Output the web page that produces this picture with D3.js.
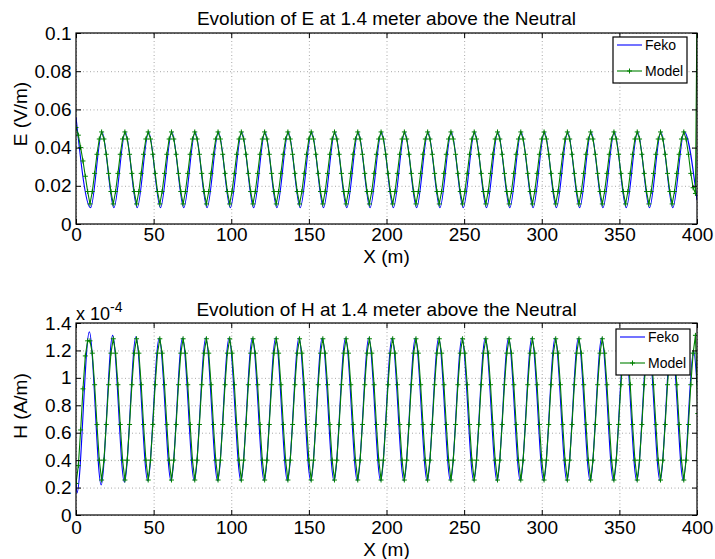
<!DOCTYPE html>
<html>
<head>
<meta charset="utf-8">
<script src="https://cdn.jsdelivr.net/npm/d3@7"></script>
<style>
body { margin: 0; background: #fff; }
text { font-family: "Liberation Sans", Arial, Helvetica, sans-serif; fill: #000; }
</style>
</head>
<body>
<svg id="chart" width="715" height="559"></svg>
<script>
// tick values
const xTicks = [0, 50, 100, 150, 200, 250, 300, 350, 400];
const eTicks = [0, 0.02, 0.04, 0.06, 0.08, 0.1];
const hTicks = [0, 0.2, 0.4, 0.6, 0.8, 1, 1.2, 1.4]; // x 10^-4
const seriesNames = ['Feko', 'Model'];

// Feko: [x (m), E (V/m)] at the turning points of the curve
const eFeko = [
    [0, 0.056], [9.4, 0.0085], [16.8, 0.0482], [24.4, 0.0085], [31.8, 0.0482], [39.4, 0.0085], [46.8, 0.0482],
    [54.4, 0.0085], [61.8, 0.0482], [69.4, 0.0085], [76.8, 0.0482], [84.4, 0.0085], [91.8, 0.0482],
    [99.4, 0.0085], [106.8, 0.0482], [114.4, 0.0085], [121.8, 0.0482], [129.4, 0.0085], [136.8, 0.0482],
    [144.4, 0.0085], [151.8, 0.0482], [159.4, 0.0085], [166.8, 0.0482], [174.4, 0.0085], [181.8, 0.0482],
    [189.4, 0.0085], [196.8, 0.0482], [204.4, 0.0085], [211.8, 0.0482], [219.4, 0.0085], [226.8, 0.0482],
    [234.4, 0.0085], [241.8, 0.0482], [249.4, 0.0085], [256.8, 0.0482], [264.4, 0.0085], [271.8, 0.0482],
    [279.4, 0.0085], [286.8, 0.0482], [294.4, 0.0085], [301.8, 0.0482], [309.4, 0.0085], [316.8, 0.0482],
    [324.4, 0.0085], [331.8, 0.0482], [339.4, 0.0085], [346.8, 0.0482], [354.4, 0.0085], [361.8, 0.0482],
    [369.4, 0.0085], [376.8, 0.0482], [384.4, 0.0085], [391.8, 0.0482], [400, 0.0125]
];

// Model: one value every modelStep metres from x = 0
const modelStep = 1.5;
const eModel = [
    0.0505, 0.0465, 0.0400, 0.0330, 0.0250, 0.0170, 0.0105, 0.0170, 0.0265, 0.0365,
    0.0445, 0.0482, 0.0445, 0.0365, 0.0265, 0.0170, 0.0105, 0.0170, 0.0265, 0.0365,
    0.0445, 0.0482, 0.0445, 0.0365, 0.0265, 0.0170, 0.0105, 0.0170, 0.0265, 0.0365,
    0.0445, 0.0482, 0.0445, 0.0365, 0.0265, 0.0170, 0.0105, 0.0170, 0.0265, 0.0365,
    0.0445, 0.0482, 0.0445, 0.0365, 0.0265, 0.0170, 0.0105, 0.0170, 0.0265, 0.0365,
    0.0445, 0.0482, 0.0445, 0.0365, 0.0265, 0.0170, 0.0105, 0.0170, 0.0265, 0.0365,
    0.0445, 0.0482, 0.0445, 0.0365, 0.0265, 0.0170, 0.0105, 0.0170, 0.0265, 0.0365,
    0.0445, 0.0482, 0.0445, 0.0365, 0.0265, 0.0170, 0.0105, 0.0170, 0.0265, 0.0365,
    0.0445, 0.0482, 0.0445, 0.0365, 0.0265, 0.0170, 0.0105, 0.0170, 0.0265, 0.0365,
    0.0445, 0.0482, 0.0445, 0.0365, 0.0265, 0.0170, 0.0105, 0.0170, 0.0265, 0.0365,
    0.0445, 0.0482, 0.0445, 0.0365, 0.0265, 0.0170, 0.0105, 0.0170, 0.0265, 0.0365,
    0.0445, 0.0482, 0.0445, 0.0365, 0.0265, 0.0170, 0.0105, 0.0170, 0.0265, 0.0365,
    0.0445, 0.0482, 0.0445, 0.0365, 0.0265, 0.0170, 0.0105, 0.0170, 0.0265, 0.0365,
    0.0445, 0.0482, 0.0445, 0.0365, 0.0265, 0.0170, 0.0105, 0.0170, 0.0265, 0.0365,
    0.0445, 0.0482, 0.0445, 0.0365, 0.0265, 0.0170, 0.0105, 0.0170, 0.0265, 0.0365,
    0.0445, 0.0482, 0.0445, 0.0365, 0.0265, 0.0170, 0.0105, 0.0170, 0.0265, 0.0365,
    0.0445, 0.0482, 0.0445, 0.0365, 0.0265, 0.0170, 0.0105, 0.0170, 0.0265, 0.0365,
    0.0445, 0.0482, 0.0445, 0.0365, 0.0265, 0.0170, 0.0105, 0.0170, 0.0265, 0.0365,
    0.0445, 0.0482, 0.0445, 0.0365, 0.0265, 0.0170, 0.0105, 0.0170, 0.0265, 0.0365,
    0.0445, 0.0482, 0.0445, 0.0365, 0.0265, 0.0170, 0.0105, 0.0170, 0.0265, 0.0365,
    0.0445, 0.0482, 0.0445, 0.0365, 0.0265, 0.0170, 0.0105, 0.0170, 0.0265, 0.0365,
    0.0445, 0.0482, 0.0445, 0.0365, 0.0265, 0.0170, 0.0105, 0.0170, 0.0265, 0.0365,
    0.0445, 0.0482, 0.0445, 0.0365, 0.0265, 0.0170, 0.0105, 0.0170, 0.0265, 0.0365,
    0.0445, 0.0482, 0.0445, 0.0365, 0.0265, 0.0170, 0.0105, 0.0170, 0.0265, 0.0365,
    0.0445, 0.0482, 0.0445, 0.0365, 0.0265, 0.0170, 0.0105, 0.0170, 0.0265, 0.0365,
    0.0445, 0.0482, 0.0445, 0.0365, 0.0265, 0.0170, 0.0105, 0.0170, 0.0265, 0.0365,
    0.0445, 0.0482, 0.0445, 0.0365, 0.0265, 0.0190, 0.0160, 0.1600
];

// Feko: [x (m), H (10^-4 A/m)] at the turning points of the curve
const hFeko = [
    [0, 0.24], [0.6, 0.16], [8.6, 1.335], [16.2, 0.22], [23.6, 1.31], [31.2, 0.24], [38.6, 1.30], [46.2, 0.25],
    [53.6, 1.29], [61.2, 0.25], [68.6, 1.29], [76.2, 0.25], [83.6, 1.29], [91.2, 0.25], [98.6, 1.29],
    [106.2, 0.25], [113.6, 1.29], [121.2, 0.25], [128.6, 1.29], [136.2, 0.25], [143.6, 1.29], [151.2, 0.25],
    [158.6, 1.29], [166.2, 0.25], [173.6, 1.29], [181.2, 0.25], [188.6, 1.29], [196.2, 0.25], [203.6, 1.29],
    [211.2, 0.25], [218.6, 1.29], [226.2, 0.25], [233.6, 1.29], [241.2, 0.25], [248.6, 1.29], [256.2, 0.25],
    [263.6, 1.29], [271.2, 0.25], [278.6, 1.29], [286.2, 0.25], [293.6, 1.29], [301.2, 0.25], [308.6, 1.29],
    [316.2, 0.25], [323.6, 1.29], [331.2, 0.25], [338.6, 1.29], [346.2, 0.25], [353.6, 1.29], [361.2, 0.25],
    [368.6, 1.29], [376.2, 0.25], [383.6, 1.29], [391.2, 0.25], [397.8, 1.2], [400, 0.95]
];

const hModel = [
    0.23, 0.36, 0.62, 0.92, 1.16, 1.27, 1.27, 1.18, 0.95, 0.66,
    0.40, 0.255, 0.40, 0.66, 0.95, 1.18, 1.285, 1.18, 0.95, 0.66,
    0.40, 0.255, 0.40, 0.66, 0.95, 1.18, 1.285, 1.18, 0.95, 0.66,
    0.40, 0.255, 0.40, 0.66, 0.95, 1.18, 1.285, 1.18, 0.95, 0.66,
    0.40, 0.255, 0.40, 0.66, 0.95, 1.18, 1.285, 1.18, 0.95, 0.66,
    0.40, 0.255, 0.40, 0.66, 0.95, 1.18, 1.285, 1.18, 0.95, 0.66,
    0.40, 0.255, 0.40, 0.66, 0.95, 1.18, 1.285, 1.18, 0.95, 0.66,
    0.40, 0.255, 0.40, 0.66, 0.95, 1.18, 1.285, 1.18, 0.95, 0.66,
    0.40, 0.255, 0.40, 0.66, 0.95, 1.18, 1.285, 1.18, 0.95, 0.66,
    0.40, 0.255, 0.40, 0.66, 0.95, 1.18, 1.285, 1.18, 0.95, 0.66,
    0.40, 0.255, 0.40, 0.66, 0.95, 1.18, 1.285, 1.18, 0.95, 0.66,
    0.40, 0.255, 0.40, 0.66, 0.95, 1.18, 1.285, 1.18, 0.95, 0.66,
    0.40, 0.255, 0.40, 0.66, 0.95, 1.18, 1.285, 1.18, 0.95, 0.66,
    0.40, 0.255, 0.40, 0.66, 0.95, 1.18, 1.285, 1.18, 0.95, 0.66,
    0.40, 0.255, 0.40, 0.66, 0.95, 1.18, 1.285, 1.18, 0.95, 0.66,
    0.40, 0.255, 0.40, 0.66, 0.95, 1.18, 1.285, 1.18, 0.95, 0.66,
    0.40, 0.255, 0.40, 0.66, 0.95, 1.18, 1.285, 1.18, 0.95, 0.66,
    0.40, 0.255, 0.40, 0.66, 0.95, 1.18, 1.285, 1.18, 0.95, 0.66,
    0.40, 0.255, 0.40, 0.66, 0.95, 1.18, 1.285, 1.18, 0.95, 0.66,
    0.40, 0.255, 0.40, 0.66, 0.95, 1.18, 1.285, 1.18, 0.95, 0.66,
    0.40, 0.255, 0.40, 0.66, 0.95, 1.18, 1.285, 1.18, 0.95, 0.66,
    0.40, 0.255, 0.40, 0.66, 0.95, 1.18, 1.285, 1.18, 0.95, 0.66,
    0.40, 0.255, 0.40, 0.66, 0.95, 1.18, 1.285, 1.18, 0.95, 0.66,
    0.40, 0.255, 0.40, 0.66, 0.95, 1.18, 1.285, 1.18, 0.95, 0.66,
    0.40, 0.255, 0.40, 0.66, 0.95, 1.18, 1.285, 1.18, 0.95, 0.66,
    0.40, 0.255, 0.40, 0.66, 0.95, 1.18, 1.285, 1.18, 0.95, 0.66,
    0.40, 0.255, 0.40, 0.66, 0.95, 1.18, 1.31, 0.74
];

const fekoColor = '#0000ff', modelColor = '#008000';
const svg = d3.select('#chart');
const defs = svg.append('defs');
const plus = 'M-2.5,0H2.5M0,-2.5V2.5';
const fontSize = 19;

function drawPanel(p) {
    const w = p.right - p.left, h = p.bottom - p.top;
    const x = d3.scaleLinear().domain([0, 400]).range([0, w]);
    const y = d3.scaleLinear().domain([0, p.yTicks[p.yTicks.length - 1]]).range([h, 0]);
    const g = svg.append('g').attr('transform', `translate(${p.left},${p.top})`);

    defs.append('clipPath').attr('id', p.id + '-clip')
        .append('rect').attr('width', w).attr('height', h);

    // dotted grid
    g.append('g').attr('transform', `translate(0,${h})`)
        .call(d3.axisBottom(x).tickValues(xTicks).tickSize(-h).tickFormat(''))
        .call(a => a.select('.domain').remove())
        .selectAll('line').attr('stroke', '#a8a8a8').attr('stroke-dasharray', '1,2.5');
    g.append('g')
        .call(d3.axisLeft(y).tickValues(p.yTicks).tickSize(-w).tickFormat(''))
        .call(a => a.select('.domain').remove())
        .selectAll('line').attr('stroke', '#a8a8a8').attr('stroke-dasharray', '1,2.5');

    // curves
    const plot = g.append('g').attr('clip-path', `url(#${p.id}-clip)`);
    const fekoLine = d3.line().x(d => x(d[0])).y(d => y(d[1])).curve(d3.curveMonotoneX);
    plot.append('path').datum(p.feko)
        .attr('d', fekoLine)
        .attr('fill', 'none').attr('stroke', fekoColor).attr('stroke-width', 1.1);

    const modelPts = p.model.map((v, i) => [i * modelStep, v]);
    const modelLine = d3.line().x(d => x(d[0])).y(d => y(d[1]));
    plot.append('path').datum(modelPts)
        .attr('d', modelLine)
        .attr('fill', 'none').attr('stroke', modelColor).attr('stroke-width', 1.1);
    plot.selectAll('.mk').data(modelPts).enter().append('path')
        .attr('class', 'mk')
        .attr('d', plus)
        .attr('transform', d => `translate(${x(d[0])},${y(d[1])})`)
        .attr('stroke', modelColor).attr('stroke-width', 1);

    // axes with inward ticks on all four sides
    const styleAxis = a => {
        a.select('.domain').remove();
        a.selectAll('line').attr('stroke', '#000');
        a.selectAll('text').attr('font-size', fontSize).attr('font-family', '"Liberation Sans", Arial, sans-serif').attr('fill', '#000');
    };
    g.append('g').attr('transform', `translate(0,${h})`)
        .call(d3.axisBottom(x).tickValues(xTicks).tickSizeInner(-5).tickSizeOuter(0).tickPadding(p.xPad))
        .call(styleAxis);
    g.append('g')
        .call(d3.axisTop(x).tickValues(xTicks).tickSizeInner(-5).tickSizeOuter(0).tickFormat(''))
        .call(styleAxis);
    g.append('g')
        .call(d3.axisLeft(y).tickValues(p.yTicks).tickSizeInner(-5).tickSizeOuter(0).tickPadding(4.5).tickFormat(d => String(d)))
        .call(styleAxis);
    g.append('g').attr('transform', `translate(${w},0)`)
        .call(d3.axisRight(y).tickValues(p.yTicks).tickSizeInner(-5).tickSizeOuter(0).tickFormat(''))
        .call(styleAxis);

    g.append('rect').attr('width', w).attr('height', h)
        .attr('fill', 'none').attr('stroke', '#000').attr('stroke-width', 1.2);

    // titles
    svg.append('text').attr('x', (p.left + p.right) / 2).attr('y', p.titleY)
        .attr('text-anchor', 'middle').attr('font-size', fontSize).text(p.title);
    svg.append('text').attr('x', (p.left + p.right) / 2).attr('y', p.xLabelY)
        .attr('text-anchor', 'middle').attr('font-size', fontSize).text('X (m)');
    svg.append('text').attr('transform', `translate(27,${p.yLabelY}) rotate(-90)`)
        .attr('text-anchor', 'middle').attr('font-size', fontSize).text(p.yLabel);

    // legend
    const lg = svg.append('g').attr('transform', `translate(${p.legend[0]},${p.legend[1]})`);
    lg.append('rect').attr('width', 74).attr('height', 46)
        .attr('fill', '#fff').attr('stroke', '#000').attr('stroke-width', 1.2);
    seriesNames.forEach((name, i) => {
        const ly = 8 + i * 26;
        lg.append('line').attr('x1', 4).attr('x2', 29).attr('y1', ly).attr('y2', ly)
            .attr('stroke', i === 0 ? fekoColor : modelColor).attr('stroke-width', 1.1);
        if (i === 1) {
            lg.append('path').attr('d', plus).attr('transform', `translate(16.5,${ly})`)
                .attr('stroke', modelColor).attr('stroke-width', 1);
        }
        lg.append('text').attr('x', 32).attr('y', ly + 5).attr('font-size', 14).text(name);
    });
}

drawPanel({
    id: 'e', left: 76, right: 697, top: 33, bottom: 224,
    yTicks: eTicks, feko: eFeko, model: eModel, xPad: 4,
    title: 'Evolution of E at 1.4 meter above the Neutral', titleY: 25,
    xLabelY: 263, yLabel: 'E (V/m)', yLabelY: 114, legend: [613, 37]
});

drawPanel({
    id: 'h', left: 76, right: 697, top: 323, bottom: 515,
    yTicks: hTicks, feko: hFeko, model: hModel, xPad: 6,
    title: 'Evolution of H at 1.4 meter above the Neutral', titleY: 315.5,
    xLabelY: 556, yLabel: 'H (A/m)', yLabelY: 406, legend: [616, 329]
});

// exponent of the H axis
svg.append('text').attr('x', 76).attr('y', 320).attr('font-size', 18)
    .text('x 10')
    .append('tspan').attr('dy', -8).attr('font-size', 14).text('-4');
</script>
</body>
</html>
